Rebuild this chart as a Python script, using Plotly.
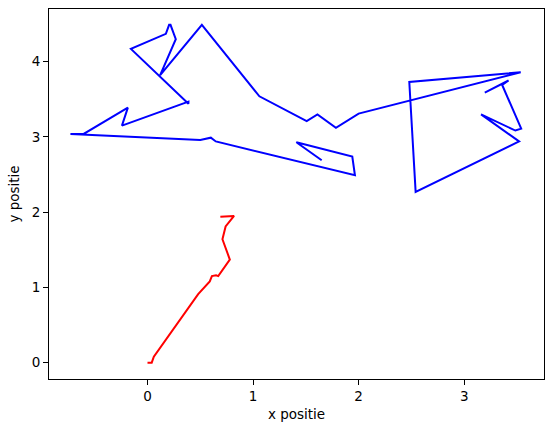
import plotly.graph_objects as go

# red trajectory
red_x = [0.0, 0.04, 0.06, 0.48, 0.59, 0.61, 0.65, 0.67, 0.78, 0.71, 0.74, 0.82, 0.69]
red_y = [0.0, 0.0, 0.08, 0.91, 1.08, 1.15, 1.16, 1.15, 1.37, 1.64, 1.81, 1.95, 1.94]

# blue trajectory
blue_x = [1.65, 1.41, 1.94, 1.965, 0.647, 0.60, 0.50, -0.73, -0.605, -0.186, -0.242,
          0.388, 0.388, -0.157, 0.174, 0.205, 0.218, 0.268, 0.12, 0.515, 1.06, 1.508,
          1.61, 1.785, 2.0, 3.535, 2.48, 2.54, 3.52, 3.16, 3.485, 3.54, 3.36, 3.42, 3.195]
blue_y = [2.69, 2.93, 2.74, 2.49, 2.94, 2.99, 2.96, 3.04, 3.04, 3.39, 3.15,
          3.47, 3.44, 4.17, 4.37, 4.49, 4.49, 4.30, 3.82, 4.49, 3.54, 3.21,
          3.30, 3.12, 3.31, 3.86, 3.73, 2.27, 2.94, 3.30, 3.085, 3.11, 3.69, 3.75, 3.59]

fig = go.Figure()
fig.add_trace(go.Scatter(x=blue_x, y=blue_y, mode="lines", line=dict(color="blue", width=2)))
fig.add_trace(go.Scatter(x=red_x, y=red_y, mode="lines", line=dict(color="red", width=2)))

label_font = dict(family="DejaVu Sans", size=13.5, color="black")
axis_style = dict(showline=True, linecolor="black", linewidth=1, mirror=True,
                  ticks="outside", ticklen=5, tickcolor="black", showgrid=False,
                  zeroline=False, automargin=False, tickfont=label_font)

fig.update_layout(
    width=554, height=432,
    margin=dict(l=49, r=10, t=9, b=53),
    plot_bgcolor="white", paper_bgcolor="white",
    showlegend=False,
    font=label_font,
    xaxis=dict(range=[-0.933, 3.756], tickvals=[0, 1, 2, 3],
               title=dict(text="x positie", standoff=6, font=label_font),
               **axis_style),
    yaxis=dict(range=[-0.217, 4.70], tickvals=[0, 1, 2, 3, 4],
               title=dict(text="y positie", standoff=8, font=label_font),
               **axis_style),
)

# drop the browser's default body margin so the figure sits at (0, 0)
fig.write_html("out.html", config={"displayModeBar": False},
               post_script="document.body.style.margin='0';")
